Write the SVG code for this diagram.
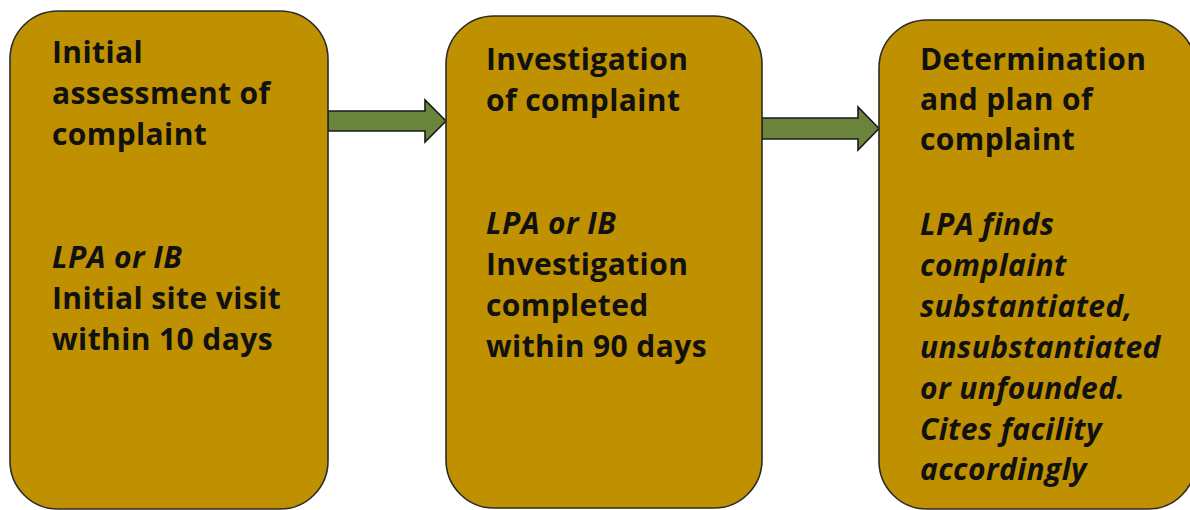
<svg xmlns="http://www.w3.org/2000/svg" width="1190" height="510" viewBox="0 0 1190 510">
<style>
.box{fill:#BF9000;stroke:#2b2b2b;stroke-width:1.6}
.arr{fill:#6A843C;stroke:#1a1a1a;stroke-width:1.6;stroke-linejoin:miter}
text{font-family:"Open Sans","Noto Sans","Liberation Sans",sans-serif;font-weight:bold;font-size:30px;letter-spacing:0.4px;fill:#111}
.it{font-style:italic}
</style>
<rect width="1190" height="510" fill="#fff"/>
<g id="connectors">
<polygon class="arr" points="328,111 425,111 425,100 446,121 425,142 425,131 328,131"/>
<polygon class="arr" points="762,118 858,118 858,107 879,128.5 858,150 858,139 762,139"/>
</g>
<g id="node1">
<rect class="box" x="10" y="11" width="318" height="498" rx="48"/>
<text x="52" y="63">Initial</text>
<text x="52" y="104">assessment of</text>
<text x="52" y="145">complaint</text>
<text x="52" y="268" class="it">LPA or IB</text>
<text x="52" y="309">Initial site visit</text>
<text x="52" y="350">within 10 days</text>
</g>
<g id="node2">
<rect class="box" x="446" y="16" width="316" height="492" rx="48"/>
<text x="486" y="70">Investigation</text>
<text x="486" y="111">of complaint</text>
<text x="486" y="234" class="it">LPA or IB</text>
<text x="486" y="275">Investigation</text>
<text x="486" y="316">completed</text>
<text x="486" y="357">within 90 days</text>
</g>
<g id="node3">
<rect class="box" x="879" y="20" width="317" height="489" rx="48"/>
<text x="920" y="70">Determination</text>
<text x="920" y="110">and plan of</text>
<text x="920" y="150">complaint</text>
<text x="920" y="235" class="it">LPA finds</text>
<text x="920" y="276" class="it">complaint</text>
<text x="920" y="317" class="it">substantiated,</text>
<text x="920" y="358" class="it">unsubstantiated</text>
<text x="920" y="399" class="it">or unfounded.</text>
<text x="920" y="440" class="it">Cites facility</text>
<text x="920" y="480" class="it">accordingly</text>
</g>
</svg>
